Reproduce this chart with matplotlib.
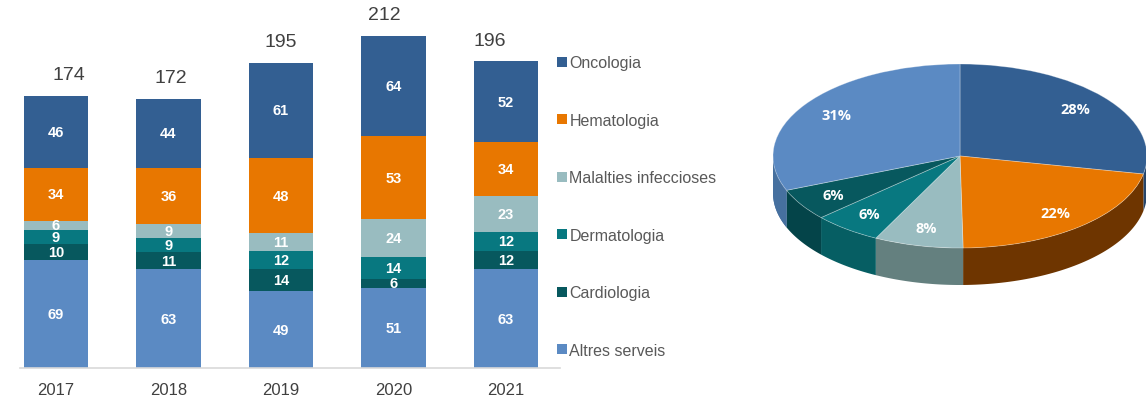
import numpy as np
import matplotlib.pyplot as plt
from matplotlib.patches import Polygon, Patch

plt.rcParams['font.family'] = ['Liberation Sans', 'DejaVu Sans']

# data
years = ['2017', '2018', '2019', '2020', '2021']
services = ['Altres serveis', 'Cardiologia', 'Dermatologia', 'Malalties infeccioses', 'Hematologia', 'Oncologia']
altres = [69, 63, 49, 51, 63]
cardiologia = [10, 11, 14, 6, 12]
dermatologia = [9, 9, 12, 14, 12]
malalties = [6, 9, 11, 24, 23]
hematologia = [34, 36, 48, 53, 34]
oncologia = [46, 44, 61, 64, 52]
series = [altres, cardiologia, dermatologia, malalties, hematologia, oncologia]

# colours (top face, side face)
colors = ['#5B8AC3', '#07585E', '#087880', '#99BCC0', '#E87700', '#335F92']
side_colors = ['#46709F', '#044449', '#065E63', '#64807F', '#6E3500', '#26466C']
text_gray = '#404040'

W, H = 1146, 402
fig = plt.figure(figsize=(W / 100, H / 100), dpi=100)

# ---- stacked bar chart ----
px_per_unit = 1.566
base_y = 369
ax = fig.add_axes([20 / W, (H - base_y) / H, 540 / W, base_y / H])
x = np.arange(len(years))
bottom = np.zeros(len(years))
for vals, col in zip(series, colors):
    vals = np.array(vals)
    ax.bar(x, vals, width=0.57, bottom=bottom, color=col, linewidth=0)
    for xi, b, v in zip(x, bottom, vals):
        ax.text(xi, b + v / 2, str(v), ha='center', va='center', color='white',
                fontsize=10.5, fontweight='bold')
    bottom = bottom + vals
totals = bottom
# the total labels sit a bit off-centre in the original
total_shift = [0.11, 0.02, 0.0, -0.08, -0.14]
for xi, t, sh in zip(x, totals, total_shift):
    ax.text(xi + sh, t + 8, str(int(t)), ha='center', va='bottom', color=text_gray, fontsize=14)

ax.set_xlim(-0.32, 4.48)
ax.set_ylim(0, base_y / px_per_unit)
for s in ['top', 'right', 'left']:
    ax.spines[s].set_visible(False)
ax.spines['bottom'].set_color('#D9D9D9')
ax.spines['bottom'].set_linewidth(1.2)
ax.set_yticks([])
ax.set_xticks(x)
ax.set_xticklabels(years, fontsize=12, color=text_gray)
ax.tick_params(axis='x', length=0, pad=10)

handles = [Patch(facecolor=c, edgecolor='none') for c in colors[::-1]]
leg = fig.legend(handles, services[::-1], loc='upper left', bbox_to_anchor=(551 / W, 1 - 50 / H),
                 frameon=False, fontsize=11.5, handlelength=0.6, handleheight=0.6,
                 handletextpad=0.15, labelspacing=2.66, borderaxespad=0)
for t in leg.get_texts():
    t.set_color('#595959')

# ---- 3D-looking pie of totals ----
pie_order = [oncologia, hematologia, malalties, dermatologia, cardiologia, altres]
pie_vals = [sum(v) for v in pie_order]
pie_cols = colors[::-1]
pie_sides = side_colors[::-1]

cx, cy, rx, ry, depth = 960, 157, 187, 92, 37
cy_b = H - cy
pax = fig.add_axes([760 / W, 0, 386 / W, 1])
pax.pie(pie_vals, colors=pie_cols, startangle=90, counterclock=False,
        autopct='%0.0f%%', pctdistance=0.8,
        wedgeprops=dict(linewidth=0.6, edgecolor='#FFFFFF55'),
        textprops=dict(color='white', fontsize=10.5, fontweight='bold', family='Open Sans'))
pax.set_aspect('auto')
pax.set_xlim((760 - cx) / rx, (W - cx) / rx)
pax.set_ylim((0 - cy_b) / ry, (H - cy_b) / ry)

# side walls (only the front half is visible)
d = depth / ry
fracs = np.array(pie_vals) / sum(pie_vals)
start = 90.0
for f, sc in zip(fracs, pie_sides):
    a0, a1 = start - f * 360, start
    start = a0
    ranges = []
    lo, hi = max(a0, -180), min(a1, 0)
    if hi > lo:
        ranges.append((lo, hi))
    if a0 < -180:
        lo2, hi2 = max(a0 + 360, 180), min(a1 + 360, 360)
        if hi2 > lo2:
            ranges.append((lo2 - 360, hi2 - 360))
    for lo_, hi_ in ranges:
        t = np.radians(np.linspace(lo_, hi_, 60))
        top = np.column_stack([np.cos(t), np.sin(t)])
        bot = np.column_stack([np.cos(t), np.sin(t) - d])[::-1]
        pax.add_patch(Polygon(np.vstack([top, bot]), closed=True, facecolor=sc,
                              edgecolor='none', zorder=0))

fig.savefig('out.png', dpi=100)
